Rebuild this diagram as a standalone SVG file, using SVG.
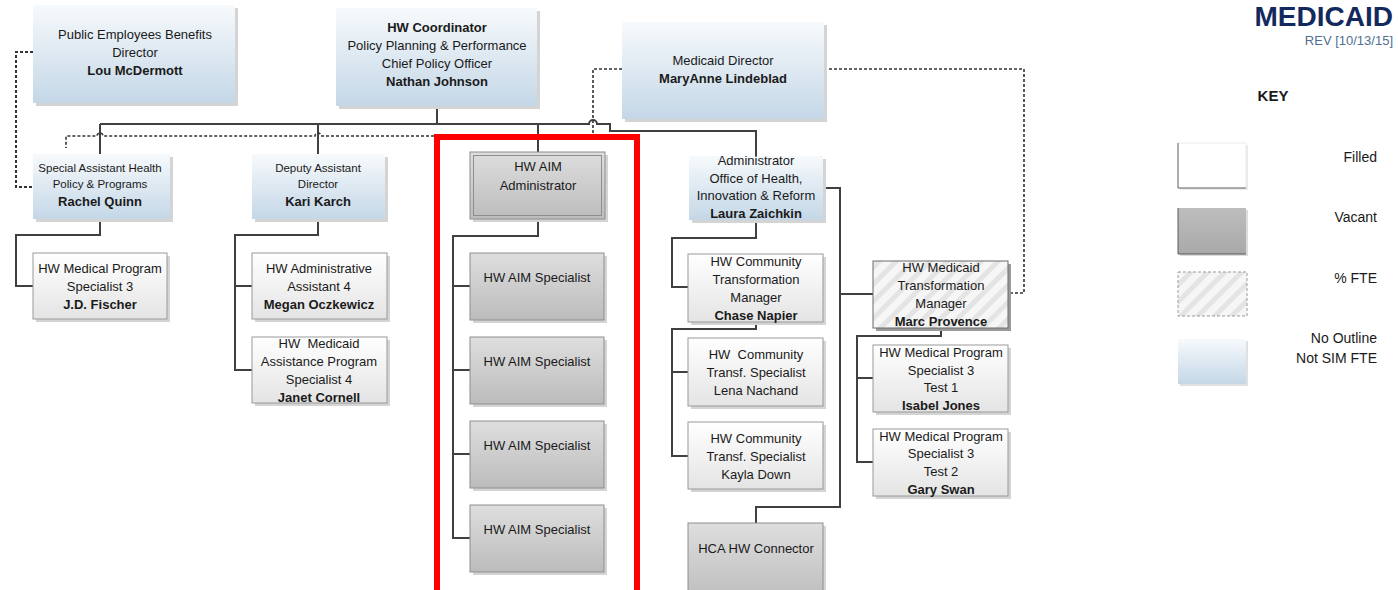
<svg xmlns="http://www.w3.org/2000/svg" width="1398" height="590" viewBox="0 0 1398 590">
<defs>
<linearGradient id="gBlue" x1="0" y1="0" x2="0" y2="1"><stop offset="0" stop-color="#f7fafc"/><stop offset="1" stop-color="#c4d7e7"/></linearGradient>
<linearGradient id="gWhite" x1="0" y1="0" x2="0" y2="1"><stop offset="0" stop-color="#ffffff"/><stop offset="1" stop-color="#e4e4e4"/></linearGradient>
<linearGradient id="gGray" x1="0" y1="0" x2="0" y2="1"><stop offset="0" stop-color="#dedede"/><stop offset="1" stop-color="#bcbcbc"/></linearGradient>
<linearGradient id="gGrayKey" x1="0" y1="0" x2="0" y2="1"><stop offset="0" stop-color="#bdbdbd"/><stop offset="1" stop-color="#a9a9a9"/></linearGradient>
<pattern id="hatch" width="12" height="12" patternUnits="userSpaceOnUse" patternTransform="rotate(45)"><rect width="12" height="12" fill="#f6f6f6"/><rect width="5" height="12" fill="#e4e4e4"/></pattern>
</defs>
<style>
text{font-family:"Liberation Sans",Arial,sans-serif;font-size:13px;fill:#1a1a1a;text-anchor:middle}
.b{font-weight:bold}
.sm{font-size:11.5px}
.shadow{fill:#d4d4d4}
.blue{fill:url(#gBlue)}
.filled{fill:url(#gWhite);stroke:#9a9a9a;stroke-width:1}
.vacant{fill:url(#gGray);stroke:#8e8e8e;stroke-width:1}
.fte{fill:url(#hatch);stroke:#6a6a6a;stroke-width:1}
.ln{fill:none;stroke:#404040;stroke-width:2}
.dot{fill:none;stroke:#333;stroke-width:1.6;stroke-dasharray:3 2}
.key{text-anchor:end;font-size:14px}
</style>
<rect width="1398" height="590" fill="#ffffff"/>

<g id="connectors">
<path class="ln" d="M100 124 H589 a4 4 0 0 1 8 0 H610 V131 H756 V156"/>
<path class="ln" d="M100 124 V154 M318 124 V154 M437 106 V124 M538 124 V152"/>
<path class="ln" d="M100 219 V235 H16 V286 H33"/>
<path class="ln" d="M318 219 V235 H235 V370 H252 M235 286 H252"/>
<path class="ln" d="M538 219 V236 H453 V538 H470 M453 286 H470 M453 370 H470 M453 454 H470"/>
<path class="ln" d="M756 220 V238 H672 V287 H688"/>
<path class="ln" d="M823 188 H840 V507 H756 V523 M840 294 H873"/>
<path class="ln" d="M756 322 V329 H672 V456 H688 M672 372 H688"/>
<path class="ln" d="M941 328 V336 H857 V462 H873 M857 378 H873"/>
<path class="dot" d="M622 69 H593 V134"/>
<path class="dot" d="M434 136 H321 a3 3 0 0 0 -6 0 H103 a3 3 0 0 0 -6 0 H66 V148"/>
<path class="dot" d="M33 52 H16 V187 H33" style="stroke-width:2"/>
<path class="dot" d="M824 69 H1024 V293 H1008"/>
</g>

<rect id="highlight" x="437" y="137" width="200" height="460" fill="none" stroke="#ff0000" stroke-width="6"/>

<g id="n-pebd"><rect class="shadow" x="36" y="8" width="202" height="98"/><rect class="blue" x="33" y="5" width="202" height="98"/>
<text x="135" y="39">Public Employees Benefits</text><text x="135" y="57">Director</text><text x="135" y="75" class="b">Lou McDermott</text></g>

<g id="n-hwc"><rect class="shadow" x="339" y="11" width="201" height="98"/><rect class="blue" x="336" y="8" width="201" height="98"/>
<text x="437" y="32" class="b">HW Coordinator</text><text x="437" y="50">Policy Planning &amp; Performance</text><text x="437" y="68">Chief Policy Officer</text><text x="437" y="86" class="b">Nathan Johnson</text></g>

<g id="n-md"><rect class="shadow" x="625" y="25" width="202" height="97"/><rect class="blue" x="622" y="22" width="202" height="97"/>
<text x="723" y="65">Medicaid Director</text><text x="723" y="83" class="b">MaryAnne Lindeblad</text></g>

<g id="n-rq"><rect class="shadow" x="36" y="157" width="137" height="65"/><rect class="blue" x="33" y="154" width="137" height="65"/>
<text x="100" y="172" class="sm">Special Assistant Health</text><text x="100" y="188" class="sm">Policy &amp; Programs</text><text x="100" y="206" class="b">Rachel Quinn</text></g>

<g id="n-kk"><rect class="shadow" x="255" y="157" width="133" height="65"/><rect class="blue" x="252" y="154" width="133" height="65"/>
<text x="318" y="172" class="sm">Deputy Assistant</text><text x="318" y="188" class="sm">Director</text><text x="318" y="206" class="b">Kari Karch</text></g>

<g id="n-aimadm"><rect class="shadow" x="473" y="155" width="135" height="67"/><rect class="vacant" x="470" y="152" width="135" height="67"/><rect x="473.5" y="155.5" width="128" height="60" fill="none" stroke="#8e8e8e" stroke-width="1"/>
<text x="538" y="171">HW AIM</text><text x="538" y="190">Administrator</text></g>

<g id="n-lz"><rect class="shadow" x="692" y="159" width="134" height="64"/><rect class="blue" x="689" y="156" width="134" height="64"/>
<text x="756" y="165">Administrator</text><text x="756" y="183">Office of Health,</text><text x="756" y="200">Innovation &amp; Reform</text><text x="756" y="218" class="b">Laura Zaichkin</text></g>

<g id="n-jdf"><rect class="shadow" x="36" y="256" width="134" height="66"/><rect class="filled" x="33" y="253" width="134" height="66"/>
<text x="100" y="273">HW Medical Program</text><text x="100" y="291">Specialist 3</text><text x="100" y="309" class="b">J.D. Fischer</text></g>

<g id="n-mo"><rect class="shadow" x="255" y="256" width="135" height="66"/><rect class="filled" x="252" y="253" width="135" height="66"/>
<text x="319" y="273">HW Administrative</text><text x="319" y="291">Assistant 4</text><text x="319" y="309" class="b">Megan Oczkewicz</text></g>

<g id="n-jc"><rect class="shadow" x="255" y="340" width="135" height="66"/><rect class="filled" x="252" y="337" width="135" height="66"/>
<text x="319" y="348" xml:space="preserve">HW  Medicaid</text><text x="319" y="366">Assistance Program</text><text x="319" y="384">Specialist 4</text><text x="319" y="402" class="b">Janet Cornell</text></g>

<g id="n-aims1"><rect class="shadow" x="473" y="256" width="134" height="67"/><rect class="vacant" x="470" y="253" width="134" height="67"/><text x="537" y="282">HW AIM Specialist</text></g>
<g id="n-aims2"><rect class="shadow" x="473" y="340" width="134" height="67"/><rect class="vacant" x="470" y="337" width="134" height="67"/><text x="537" y="366">HW AIM Specialist</text></g>
<g id="n-aims3"><rect class="shadow" x="473" y="424" width="134" height="67"/><rect class="vacant" x="470" y="421" width="134" height="67"/><text x="537" y="450">HW AIM Specialist</text></g>
<g id="n-aims4"><rect class="shadow" x="473" y="508" width="134" height="67"/><rect class="vacant" x="470" y="505" width="134" height="67"/><text x="537" y="534">HW AIM Specialist</text></g>

<g id="n-cn"><rect class="shadow" x="691" y="257" width="135" height="68"/><rect class="filled" x="688" y="254" width="135" height="68"/>
<text x="756" y="266">HW Community</text><text x="756" y="284">Transformation</text><text x="756" y="302">Manager</text><text x="756" y="320" class="b">Chase Napier</text></g>

<g id="n-ln"><rect class="shadow" x="691" y="341" width="135" height="68"/><rect class="filled" x="688" y="338" width="135" height="68"/>
<text x="756" y="359" xml:space="preserve">HW  Community</text><text x="756" y="377">Transf. Specialist</text><text x="756" y="395">Lena Nachand</text></g>

<g id="n-kd"><rect class="shadow" x="691" y="425" width="135" height="67"/><rect class="filled" x="688" y="422" width="135" height="67"/>
<text x="756" y="443">HW Community</text><text x="756" y="461">Transf. Specialist</text><text x="756" y="479">Kayla Down</text></g>

<g id="n-hca"><rect class="shadow" x="691" y="526" width="135" height="80"/><rect class="vacant" x="688" y="523" width="135" height="80"/><text x="756" y="553">HCA HW Connector</text></g>

<g id="n-mp"><rect x="876" y="264" width="135" height="67" fill="#9a9a9a"/><rect class="fte" x="873" y="261" width="135" height="67"/>
<text x="941" y="272">HW Medicaid</text><text x="941" y="290">Transformation</text><text x="941" y="308">Manager</text><text x="941" y="326" class="b">Marc Provence</text></g>

<g id="n-ij"><rect class="shadow" x="876" y="348" width="135" height="67"/><rect class="filled" x="873" y="345" width="135" height="67"/>
<text x="941" y="357">HW Medical Program</text><text x="941" y="375">Specialist 3</text><text x="941" y="392">Test 1</text><text x="941" y="410" class="b">Isabel Jones</text></g>

<g id="n-gs"><rect class="shadow" x="876" y="432" width="135" height="67"/><rect class="filled" x="873" y="429" width="135" height="67"/>
<text x="941" y="441">HW Medical Program</text><text x="941" y="458">Specialist 3</text><text x="941" y="476">Test 2</text><text x="941" y="494" class="b">Gary Swan</text></g>

<g id="title">
<text x="1393" y="26" class="b" style="font-size:28px;fill:#13295e;text-anchor:end">MEDICAID</text>
<text x="1393" y="45" style="font-size:13px;fill:#4f6f92;text-anchor:end">REV [10/13/15]</text>
</g>

<g id="legend">
<text x="1273" y="101" class="b" style="font-size:15px">KEY</text>
<rect x="1180" y="145" width="68" height="45" fill="#ebebeb"/>
<rect x="1178" y="143" width="68" height="45" fill="#ffffff" stroke="#ececec"/>
<path d="M1178 143 V188 H1246" fill="none" stroke="#666" stroke-width="1"/>
<rect x="1180" y="210" width="68" height="46" fill="#dcdcdc"/>
<rect x="1178" y="208" width="68" height="46" fill="url(#gGrayKey)"/>
<path d="M1178 208 V254 H1246" fill="none" stroke="#5a5a5a" stroke-width="1"/>
<rect x="1178" y="272" width="69" height="44" fill="url(#hatch)" stroke="#999" stroke-dasharray="3 2"/>
<rect x="1180" y="341" width="68" height="45" fill="#e0e0e0"/>
<rect x="1178" y="339" width="68" height="45" fill="url(#gBlue)"/>
<text x="1377" y="162" class="key">Filled</text>
<text x="1377" y="222" class="key">Vacant</text>
<text x="1377" y="283" class="key">% FTE</text>
<text x="1377" y="343" class="key">No Outline</text>
<text x="1377" y="363" class="key">Not SIM FTE</text>
</g>
</svg>
